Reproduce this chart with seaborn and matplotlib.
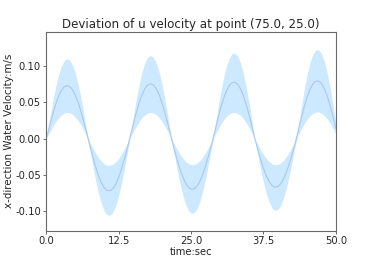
import matplotlib
matplotlib.use("Agg")
from matplotlib import pyplot as plt
import pandas as pd
import seaborn as sns

# time in seconds
time_sec = [0, 0.5, 1, 1.5, 2, 2.5, 3, 3.5, 4, 4.5, 5, 5.5, 6, 6.5, 7, 7.5, 8, 8.5, 9, 9.5,
            10, 10.5, 11, 11.5, 12, 12.5, 13, 13.5, 14, 14.5, 15, 15.5, 16, 16.5, 17, 17.5,
            18, 18.5, 19, 19.5, 20, 20.5, 21, 21.5, 22, 22.5, 23, 23.5, 24, 24.5, 25, 25.5,
            26, 26.5, 27, 27.5, 28, 28.5, 29, 29.5, 30, 30.5, 31, 31.5, 32, 32.5, 33, 33.5,
            34, 34.5, 35, 35.5, 36, 36.5, 37, 37.5, 38, 38.5, 39, 39.5, 40, 40.5, 41, 41.5,
            42, 42.5, 43, 43.5, 44, 44.5, 45, 45.5, 46, 46.5, 47, 47.5, 48, 48.5, 49, 49.5, 50]

# mean u deviation (m/s)
u_mean = [0.0, 0.0158, 0.0308, 0.0444, 0.0559, 0.0648, 0.0705, 0.0729, 0.0719, 0.0674,
          0.0598, 0.0493, 0.0365, 0.0220, 0.0064, -0.0094, -0.0246, -0.0387, -0.0509, -0.0607,
          -0.0677, -0.0714, -0.0717, -0.0687, -0.0624, -0.0531, -0.0413, -0.0276, -0.0125, 0.0033,
          0.0195, 0.0349, 0.0485, 0.0599, 0.0684, 0.0737, 0.0755, 0.0737, 0.0684, 0.0599,
          0.0485, 0.0349, 0.0195, 0.0033, -0.0122, -0.0268, -0.0402, -0.0516, -0.0606, -0.0668,
          -0.0697, -0.0694, -0.0658, -0.0590, -0.0495, -0.0376, -0.0239, -0.0091, 0.0068, 0.0234,
          0.0389, 0.0525, 0.0637, 0.0718, 0.0765, 0.0776, 0.0751, 0.0689, 0.0595, 0.0473,
          0.0328, 0.0168, 0.0, -0.0145, -0.0283, -0.0408, -0.0513, -0.0594, -0.0647, -0.0669,
          -0.0660, -0.0619, -0.0549, -0.0453, -0.0335, -0.0201, -0.0058, 0.0104, 0.0272, 0.0427,
          0.0562, 0.0671, 0.0747, 0.0788, 0.0792, 0.0758, 0.0688, 0.0586, 0.0456, 0.0304,
          0.0138]

# upper edge of the band
u_upper = [0.0, 0.0238, 0.0465, 0.0670, 0.0843, 0.0976, 0.1062, 0.1099, 0.1083, 0.1016,
           0.0901, 0.0743, 0.0550, 0.0331, 0.0096, -0.0048, -0.0127, -0.0199, -0.0262, -0.0312,
           -0.0348, -0.0367, -0.0369, -0.0353, -0.0320, -0.0273, -0.0212, -0.0142, -0.0064, 0.0050,
           0.0296, 0.0529, 0.0736, 0.0908, 0.1038, 0.1118, 0.1145, 0.1118, 0.1038, 0.0908,
           0.0736, 0.0529, 0.0296, 0.0050, -0.0063, -0.0138, -0.0206, -0.0265, -0.0312, -0.0343,
           -0.0359, -0.0357, -0.0338, -0.0304, -0.0255, -0.0193, -0.0123, -0.0047, 0.0103, 0.0355,
           0.0590, 0.0797, 0.0967, 0.1090, 0.1162, 0.1179, 0.1140, 0.1047, 0.0904, 0.0718,
           0.0499, 0.0255, 0.0, -0.0078, -0.0152, -0.0219, -0.0276, -0.0319, -0.0348, -0.0360,
           -0.0355, -0.0333, -0.0295, -0.0243, -0.0180, -0.0108, -0.0031, 0.0160, 0.0420, 0.0660,
           0.0868, 0.1036, 0.1154, 0.1217, 0.1223, 0.1171, 0.1063, 0.0905, 0.0704, 0.0470,
           0.0213]

# lower edge of the band
u_lower = [0.0, 0.0078, 0.0152, 0.0219, 0.0276, 0.0319, 0.0348, 0.0360, 0.0355, 0.0333,
           0.0295, 0.0243, 0.0180, 0.0108, 0.0031, -0.0138, -0.0363, -0.0570, -0.0750, -0.0894,
           -0.0996, -0.1051, -0.1056, -0.1011, -0.0918, -0.0782, -0.0608, -0.0406, -0.0184, 0.0016,
           0.0093, 0.0166, 0.0231, 0.0286, 0.0326, 0.0351, 0.0360, 0.0351, 0.0326, 0.0286,
           0.0231, 0.0166, 0.0093, 0.0016, -0.0179, -0.0394, -0.0591, -0.0759, -0.0892, -0.0982,
           -0.1026, -0.1021, -0.0968, -0.0869, -0.0728, -0.0553, -0.0352, -0.0134, 0.0031, 0.0108,
           0.0180, 0.0243, 0.0295, 0.0333, 0.0355, 0.0360, 0.0348, 0.0319, 0.0276, 0.0219,
           0.0152, 0.0078, 0.0, -0.0214, -0.0418, -0.0603, -0.0758, -0.0878, -0.0956, -0.0989,
           -0.0975, -0.0915, -0.0811, -0.0669, -0.0495, -0.0298, -0.0086, 0.0048, 0.0126, 0.0197,
           0.0260, 0.0310, 0.0345, 0.0364, 0.0366, 0.0350, 0.0318, 0.0271, 0.0211, 0.0140,
           0.0064]

df = pd.DataFrame({"time": time_sec, "mean": u_mean, "upper": u_upper, "lower": u_lower})

sns.set_style("white")
plt.rcParams["font.family"] = ["DejaVu Sans"]

fig = plt.figure(figsize=(3.74, 2.6), dpi=100)
ax = fig.add_axes([0.124, 0.112, 0.774, 0.766])

ax.fill_between(df["time"], df["lower"], df["upper"], color="#cce9ff", linewidth=0)
sns.lineplot(data=df, x="time", y="mean", ax=ax, color="#aac8f0", linewidth=0.8)

ax.set_xlim(0, 50)
ax.set_ylim(-0.127, 0.147)
ax.set_xticks([0, 12.5, 25, 37.5, 50])
ax.set_xticklabels(["0.0", "12.5", "25.0", "37.5", "50.0"])
ax.set_yticks([-0.10, -0.05, 0.0, 0.05, 0.10])
ax.set_yticklabels(["-0.10", "-0.05", "0.00", "0.05", "0.10"])
ax.tick_params(axis="both", labelsize=7.2, length=2.5, width=0.6, color="#555555",
               bottom=True, left=True, pad=1.5)

for sp in ax.spines.values():
    sp.set_color("#6a6a6a")
    sp.set_linewidth(0.8)

ax.set_title("Deviation of u velocity at point (75.0, 25.0)", fontsize=8.6, pad=3)
ax.set_xlabel("time:sec", fontsize=7.2, labelpad=0.5)
ax.set_ylabel("x-direction Water Velocity:m/s", fontsize=7.4, labelpad=0.5)

fig.savefig("out.png", dpi=100)
